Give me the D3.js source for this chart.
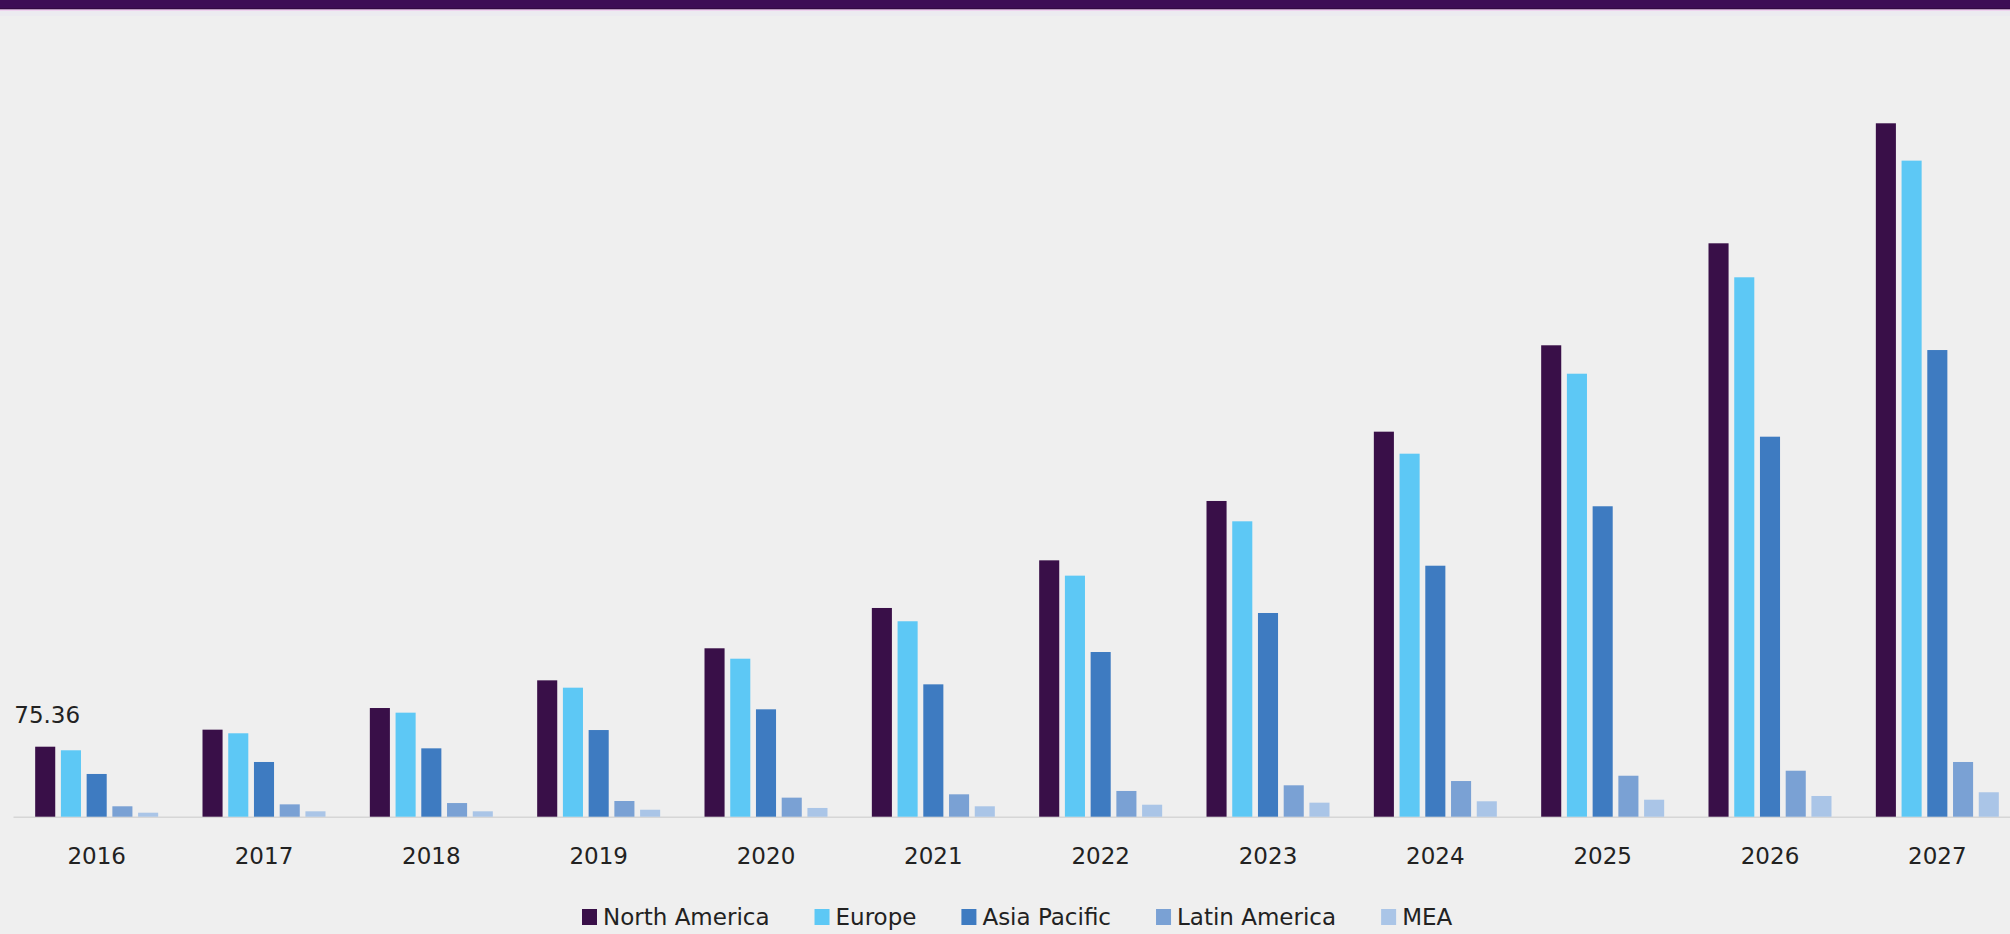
<!DOCTYPE html>
<html>
<head>
<meta charset="utf-8">
<script src="https://d3js.org/d3.v7.min.js"></script>
<style>
  body{
    margin: 0;
    background-color: #efefef;
  }
  text{
    font-family: 'DejaVu Sans', sans-serif;
  }
</style>
</head>
<body>
<script>

// data
const years = ["2016","2017","2018","2019","2020","2021","2022","2023","2024","2025","2026","2027"];
const regions = ["North America","Europe","Asia Pacific","Latin America","MEA"];

const northAmerica = [75.36, 93.7, 117.0, 146.8, 181.3, 224.7, 276.0, 339.9, 414.5, 507.5, 617.3, 746.5];
const europe       = [71.5, 89.8, 112.0, 138.9, 170.1, 210.4, 259.5, 318.0, 390.8, 476.9, 580.7, 706.3];
const asiaPacific  = [46.0, 58.9, 73.6, 93.3, 115.6, 142.5, 177.3, 219.3, 270.2, 334.2, 409.1, 502.4];
const latinAmerica = [11.2, 13.3, 14.7, 16.9, 20.5, 24.1, 27.7, 33.8, 38.4, 44.1, 49.5, 58.9];
const mea          = [4.3, 5.8, 5.8, 7.5, 9.4, 11.2, 12.9, 15.1, 16.6, 18.3, 22.3, 26.3];

const seriesValues = [northAmerica, europe, asiaPacific, latinAmerica, mea];
const colors = ["#390f48", "#5dc8f5", "#3e7bc1", "#7aa1d4", "#aac5e7"];

const width = 2010;
const height = 934;

const svg = d3.select("body").append("svg").attr("width", width).attr("height", height);

// background + top band
svg.append("rect").attr("width", width).attr("height", height).attr("fill", "#efefef");
svg.append("rect").attr("width", width).attr("height", 16).attr("fill", "#ecebf0");
svg.append("rect").attr("width", width).attr("height", 11).attr("fill", "#efd3ef");
svg.append("rect").attr("width", width).attr("height", 9.3).attr("fill", "#2e0a3c");
svg.append("rect").attr("width", width).attr("height", 8.3).attr("fill", "#3d0e55");

const x0 = d3.scaleBand()
  .domain(years)
  .range([13, 2021])
  .paddingInner(0.265)
  .paddingOuter(0.1325);

const x1 = d3.scaleBand()
  .domain(regions)
  .range([0, x0.bandwidth()])
  .paddingInner(0.22);

const y = d3.scaleLinear()
  .domain([0, 800])
  .range([816.7, 73.6]);

const color = d3.scaleOrdinal().domain(regions).range(colors);

// x axis (baseline + year labels)
const xAxis = svg.append("g")
  .attr("transform", "translate(0," + y(0) + ")")
  .call(d3.axisBottom(x0).tickSize(0).tickPadding(31));
xAxis.select(".domain").attr("stroke", "#d6d6d6").attr("stroke-width", 1.5);
xAxis.selectAll("text")
  .attr("font-size", 23)
  .attr("fill", "#222")
  .style("font-family", "'DejaVu Sans', sans-serif");

// bars
const rows = years.map((yr, i) => ({year: yr, vals: regions.map((r, j) => ({region: r, value: seriesValues[j][i]}))}));

svg.append("g").selectAll("g")
  .data(rows)
  .enter()
  .append("g")
  .attr("transform", d => "translate(" + x0(d.year) + ",0)")
  .selectAll("rect")
  .data(d => d.vals)
  .enter()
  .append("rect")
  .attr("x", d => x1(d.region))
  .attr("y", d => y(d.value))
  .attr("width", x1.bandwidth())
  .attr("height", d => y(0) - y(d.value))
  .attr("fill", d => color(d.region));

// value label on first bar
svg.append("text")
  .attr("x", x0(years[0]) + x1(regions[0]) + x1.bandwidth() / 2 + 2)
  .attr("y", y(northAmerica[0]) - 24)
  .attr("text-anchor", "middle")
  .attr("font-size", 23)
  .attr("fill", "#222")
  .text(d3.format(".2f")(northAmerica[0]));

// legend
const legend = svg.append("g").attr("transform", "translate(582,917)");
let lx = 0;
regions.forEach((r, i) => {
  const item = legend.append("g").attr("transform", "translate(" + lx + ",0)");
  item.append("rect")
    .attr("x", 0).attr("y", -8)
    .attr("width", 15).attr("height", 16)
    .attr("fill", colors[i]);
  const t = item.append("text")
    .attr("x", 21).attr("y", 8)
    .attr("font-size", 23)
    .attr("fill", "#222")
    .text(r);
  lx += 21 + t.node().getComputedTextLength() + 45;
});

</script>
</body>
</html>
